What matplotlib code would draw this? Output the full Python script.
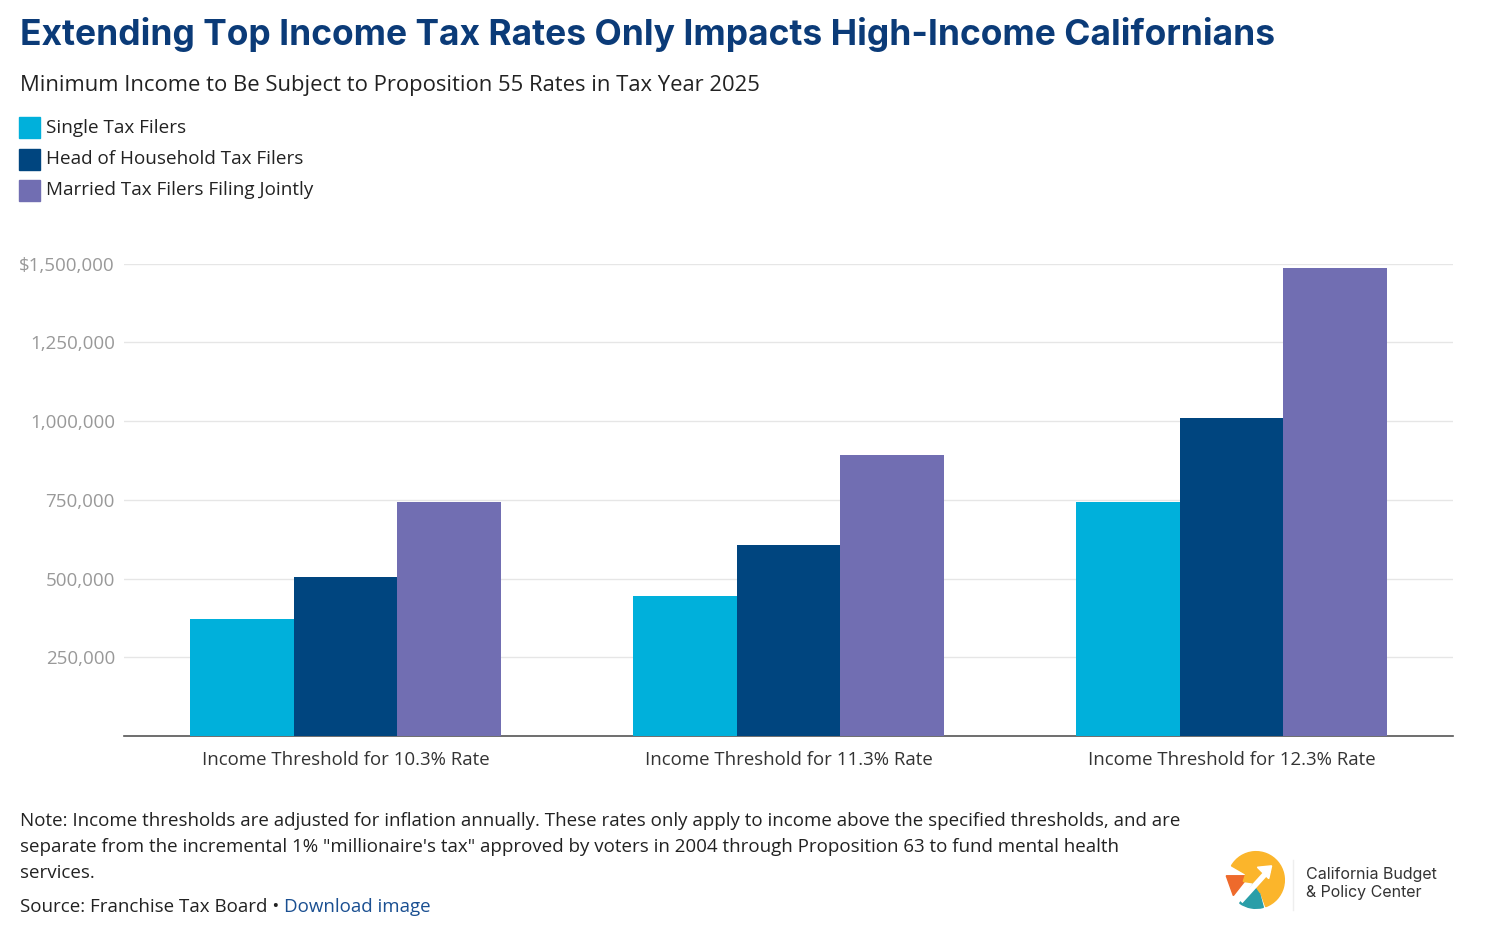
import matplotlib.pyplot as plt
import numpy as np
from matplotlib.patches import Wedge, Polygon, Rectangle

# thresholds, tax year 2025
categories = ['Income Threshold for 10.3% Rate',
              'Income Threshold for 11.3% Rate',
              'Income Threshold for 12.3% Rate']
single = [371479, 445771, 742953]
head_of_household = [505208, 606251, 1010417]
married = [742953, 891542, 1485906]
series_names = ['Single Tax Filers', 'Head of Household Tax Filers',
                'Married Tax Filers Filing Jointly']
colors = ['#00b0db', '#00457f', '#716eb2']
yticks = [250000, 500000, 750000, 1000000, 1250000, 1500000]

plt.rcParams['font.family'] = ['Open Sans', 'DejaVu Sans']

W, H = 1500, 943
fig = plt.figure(figsize=(W / 100, H / 100), dpi=100)


def fy(px):
    return 1 - px / H


# title block
fig.text(20 / W, fy(45), 'Extending Top Income Tax Rates Only Impacts High-Income Californians',
         fontsize=25.5, fontweight='bold', color='#0b3b78', family=['Inter', 'DejaVu Sans'],
         va='baseline')
fig.text(20 / W, fy(91), 'Minimum Income to Be Subject to Proposition 55 Rates in Tax Year 2025',
         fontsize=15.8, color='#222222', va='baseline')

# legend
for i, (name, c) in enumerate(zip(series_names, colors)):
    yc = 128 + i * 31
    fig.patches.append(Rectangle((19 / W, fy(yc + 10.5)), 21 / W, 21 / H,
                                 transform=fig.transFigure, color=c))
    fig.text(46 / W, fy(yc), name, fontsize=13.6, color='#222222', va='center')

# chart
ax = fig.add_axes([124 / W, fy(736), (1453 - 124) / W, (736 - 263.5) / H])
x = np.arange(len(categories))
w = 0.234
for k, (vals, c) in enumerate(zip([single, head_of_household, married], colors)):
    ax.bar(x + (k - 1) * w, vals, width=w, color=c, zorder=3)

ax.set_xlim(-0.5, 2.5)
ax.set_ylim(0, 1500000)
ax.set_yticks(yticks)
ax.set_yticklabels([('$' if v == 1500000 else '') + f'{v:,}' for v in yticks])
ax.set_xticks(x)
ax.set_xticklabels(categories)
ax.grid(axis='y', color='#e6e6e6', linewidth=1, zorder=0)
for s in ['top', 'right', 'left']:
    ax.spines[s].set_visible(False)
ax.spines['bottom'].set_color('#555555')
ax.spines['bottom'].set_linewidth(1.2)
ax.tick_params(axis='y', length=0, pad=6.5, labelsize=13.5, labelcolor='#999999')
ax.tick_params(axis='x', length=0, pad=11, labelsize=13.4, labelcolor='#333333')

# notes
note_lines = ['Note: Income thresholds are adjusted for inflation annually. These rates only apply to income above the specified thresholds, and are',
              'separate from the incremental 1% "millionaire\'s tax" approved by voters in 2004 through Proposition 63 to fund mental health',
              'services.']
for i, line in enumerate(note_lines):
    fig.text(20 / W, fy(826 + 26 * i), line, fontsize=13.5, color='#222222', va='baseline')
src = fig.text(20 / W, fy(912), 'Source: Franchise Tax Board \u2022 ', fontsize=13.5,
               color='#222222', va='baseline')
fig.canvas.draw()
bb = src.get_window_extent()
fig.text(bb.x1 / W, fy(912), 'Download image', fontsize=13.5, color='#1a4f91', va='baseline')

# logo
lax = fig.add_axes([1222 / W, fy(914), 68 / W, 68 / H])
lax.set_xlim(-1.2, 1.2)
lax.set_ylim(-1.2, 1.2)
lax.set_aspect('equal')
lax.axis('off')
lax.add_patch(Wedge((0, 0), 1.0, -70, 150, color='#fbb52b'))
lax.add_patch(Polygon([(-1.05, 0.15), (-0.25, 0.15), (-0.8, -0.55)], color='#ee6a2c'))
lax.add_patch(Wedge((0, 0), 1.0, 235, 285, color='#2a9ea8'))
lax.add_patch(Polygon([(-0.1, -0.1), (-0.45, -0.05), (-0.35, 0.25), (0.6, 0.55),
                       (0.15, -0.45)], color='#fbb52b'))
lax.plot([-0.55, 0.45], [-0.75, 0.35], color='white', linewidth=4, solid_capstyle='butt')
lax.add_patch(Polygon([(0.55, 0.5), (0.05, 0.45), (0.45, 0.05)], color='white'))
fig.add_artist(plt.Line2D([1293 / W, 1293 / W], [fy(860), fy(910)], color='#eeeeee',
                          linewidth=1, transform=fig.transFigure))
fig.text(1306 / W, fy(874), 'California Budget', fontsize=11.5, color='#333333',
         family=['Inter', 'DejaVu Sans'], va='center')
fig.text(1306 / W, fy(893), '& Policy Center', fontsize=11.5, color='#333333',
         family=['Inter', 'DejaVu Sans'], va='center')

fig.savefig('out.png', dpi=100)
